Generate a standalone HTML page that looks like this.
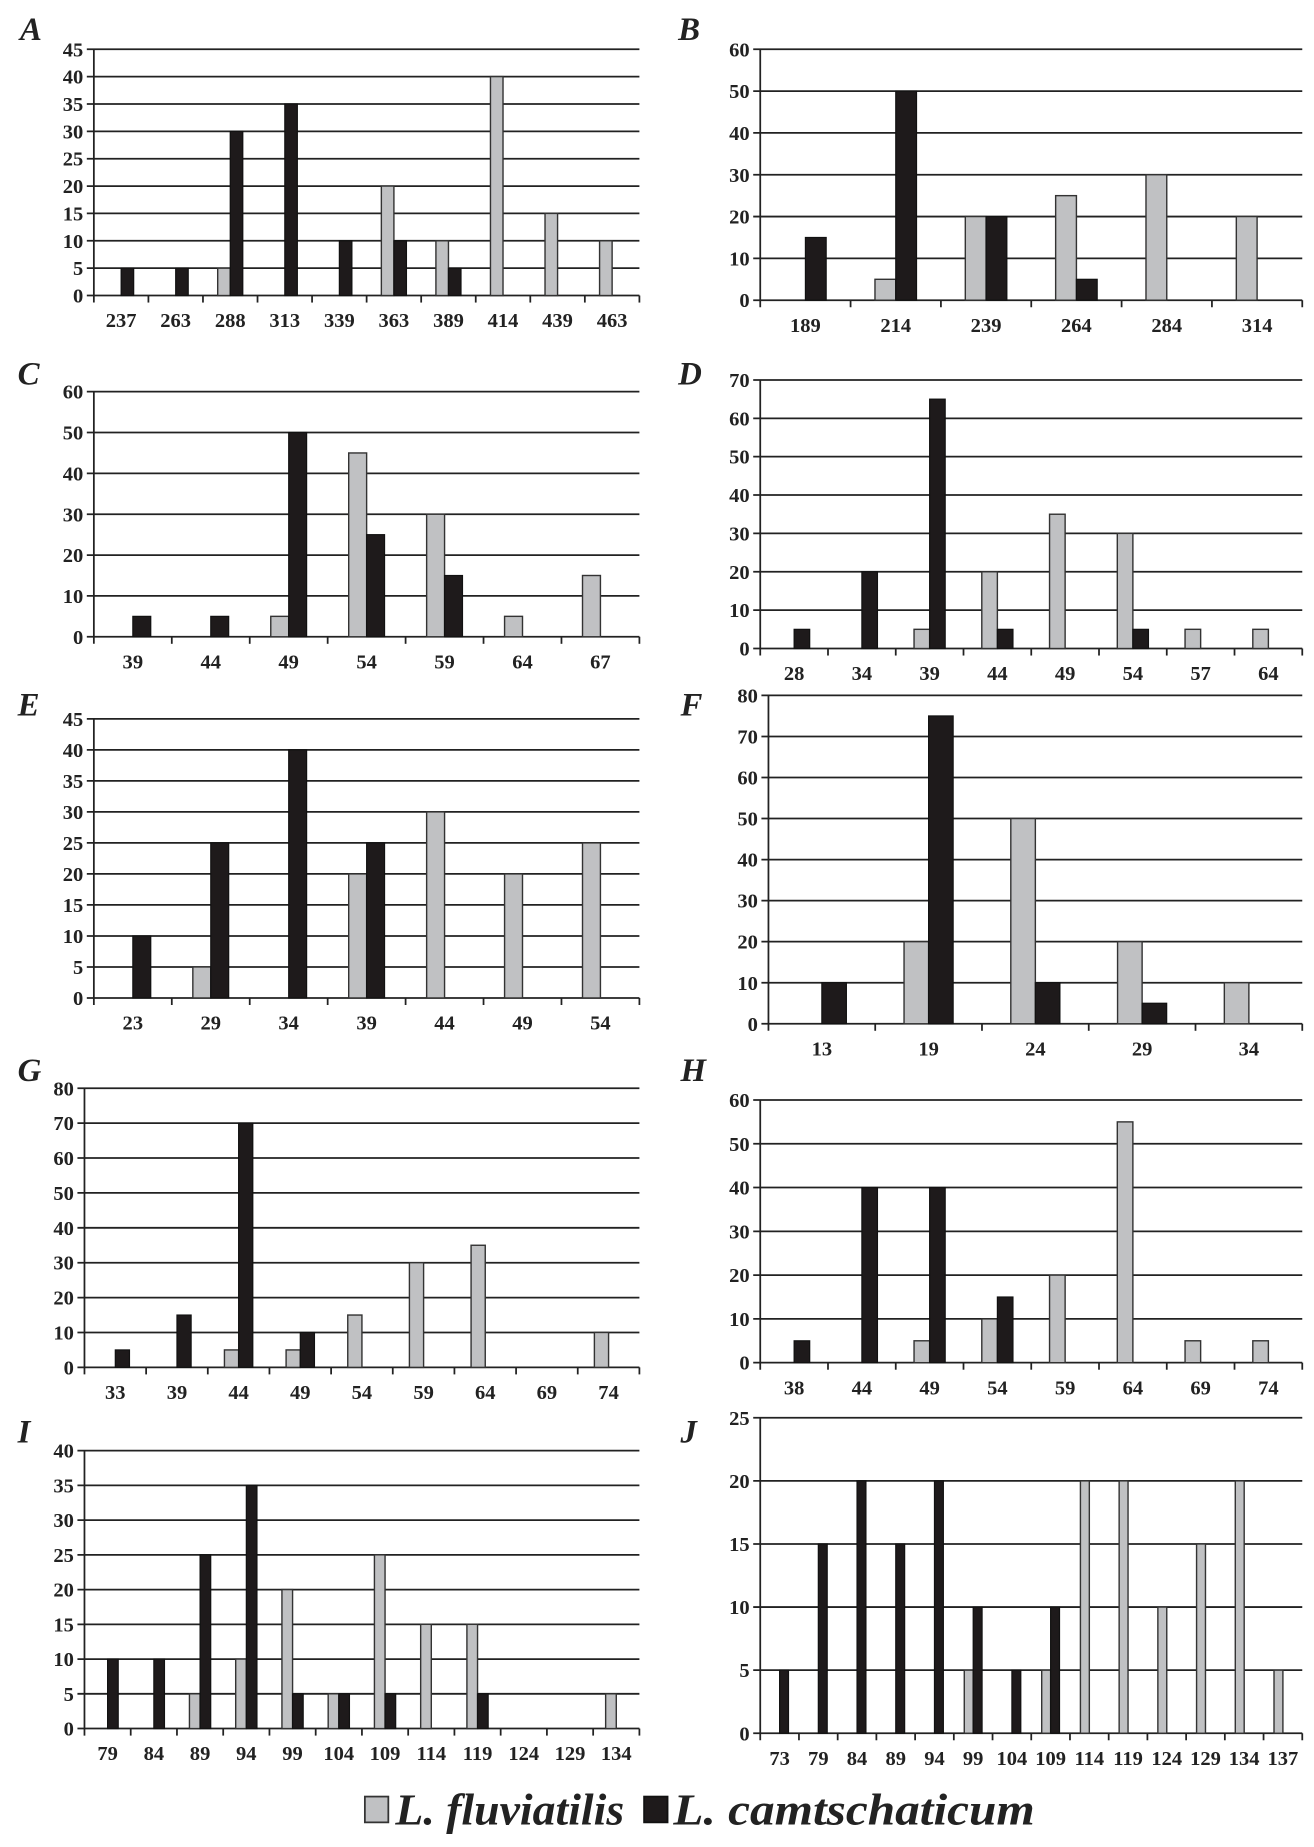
<!DOCTYPE html>
<html><head><meta charset="utf-8"><style>
html,body{margin:0;padding:0;background:#fff}
svg{display:block}
text{font-family:"Liberation Serif",serif;font-weight:bold;fill:#222}
</style></head><body>
<svg id="fig" width="1314" height="1847" viewBox="0 0 1120 1575" preserveAspectRatio="none" xmlns="http://www.w3.org/2000/svg"></svg>
<script>
const labelsA=["A","B","C","D","E","F","G","H","I","J"];
const catsA=[237,263,288,313,339,363,389,414,439,463];
const grayA=[0,0,5,0,0,20,10,40,15,10];
const blackA=[5,5,30,35,10,10,5,0,0,0];
const catsB=[189,214,239,264,284,314];
const grayB=[0,5,20,25,30,20];
const blackB=[15,50,20,5,0,0];
const catsC=[39,44,49,54,59,64,67];
const grayC=[0,0,5,45,30,5,15];
const blackC=[5,5,50,25,15,0,0];
const catsD=[28,34,39,44,49,54,57,64];
const grayD=[0,0,5,20,35,30,5,5];
const blackD=[5,20,65,5,0,5,0,0];
const catsE=[23,29,34,39,44,49,54];
const grayE=[0,5,0,20,30,20,25];
const blackE=[10,25,40,25,0,0,0];
const catsF=[13,19,24,29,34];
const grayF=[0,20,50,20,10];
const blackF=[10,75,10,5,0];
const catsG=[33,39,44,49,54,59,64,69,74];
const grayG=[0,0,5,5,15,30,35,0,10];
const blackG=[5,15,70,10,0,0,0,0,0];
const catsH=[38,44,49,54,59,64,69,74];
const grayH=[0,0,5,10,20,55,5,5];
const blackH=[5,40,40,15,0,0,0,0];
const catsI=[79,84,89,94,99,104,109,114,119,124,129,134];
const grayI=[0,0,5,10,20,5,25,15,15,0,0,5];
const blackI=[10,10,25,35,5,5,5,0,5,0,0,0];
const catsJ=[73,79,84,89,94,99,104,109,114,119,124,129,134,137];
const grayJ=[0,0,0,0,0,5,0,5,20,20,10,15,20,5];
const blackJ=[5,15,20,15,20,10,5,10,0,0,0,0,0,0];
const yMaxes=[45,60,60,70,45,80,80,60,40,25];
const ySteps=[5,10,10,10,5,10,10,10,5,5];

const panels=[
 {x0:80,x1:545,top:42,zero:252,lx:17,ly:34,cats:catsA,g:grayA,b:blackA},
 {x0:648,x1:1110,top:42,zero:256,lx:578,ly:34,cats:catsB,g:grayB,b:blackB},
 {x0:80,x1:545,top:334,zero:543,lx:15,ly:328,cats:catsC,g:grayC,b:blackC},
 {x0:648,x1:1110,top:324,zero:553,lx:578,ly:328,cats:catsD,g:grayD,b:blackD},
 {x0:80,x1:545,top:613,zero:851,lx:15,ly:610,cats:catsE,g:grayE,b:blackE},
 {x0:655,x1:1110,top:593,zero:873,lx:580,ly:610,cats:catsF,g:grayF,b:blackF},
 {x0:72,x1:545,top:928,zero:1166,lx:15,ly:922,cats:catsG,g:grayG,b:blackG},
 {x0:648,x1:1110,top:938,zero:1162,lx:580,ly:922,cats:catsH,g:grayH,b:blackH},
 {x0:72,x1:545,top:1237,zero:1474,lx:15,ly:1230,cats:catsI,g:grayI,b:blackI},
 {x0:648,x1:1110,top:1209,zero:1478,lx:580,ly:1230,cats:catsJ,g:grayJ,b:blackJ}
];
const NS="http://www.w3.org/2000/svg";
const svg=document.getElementById('fig');
function mk(tag,attrs,parent){const e=document.createElementNS(NS,tag);for(const k in attrs)e.setAttribute(k,attrs[k]);(parent||svg).appendChild(e);return e;}
panels.forEach((p,i)=>{
  const L=labelsA[i];
  const g=mk('g',{});
  
  
  const ymax=yMaxes[i],step=ySteps[i];
  const ys=v=>p.zero-(v/ymax)*(p.zero-p.top);
  const n=p.cats.length,cw=(p.x1-p.x0)/n;
  const xs=k=>p.x0+cw*k;
  const lt=mk('text',{x:p.lx,y:p.ly,'font-size':28,'font-style':'italic'},g);
  lt.textContent=L;
  
  
  for(let v=0;v<=ymax;v+=step){
    const y=ys(v);
    const ln=mk('line',{x1:p.x0-6,x2:p.x1,y1:y,y2:y,stroke:'#222','stroke-width':1.5},g);
    
    
    const t=mk('text',{x:p.x0-9,y:y+6,'font-size':17.5,'text-anchor':'end'},g);
    t.textContent=v;
    
    
  }
  const ax=mk('line',{x1:p.x0,x2:p.x0,y1:p.top,y2:p.zero+6,stroke:'#222','stroke-width':1.5},g);
  
  
  const bw=cw*0.23;
  for(let k=0;k<n;k++){
    const tk=mk('line',{x1:xs(k+1),x2:xs(k+1),y1:p.zero,y2:p.zero+6,stroke:'#222','stroke-width':1.5},g);
    
    
    const c=xs(k+0.5);
    if(p.g[k]>0){
      const r=mk('rect',{x:c-bw,y:ys(p.g[k]),width:bw,height:p.zero-ys(p.g[k]),fill:'#c0c1c3',stroke:'#333','stroke-width':1.2},g);
      
      
    }
    if(p.b[k]>0){
      const r=mk('rect',{x:c,y:ys(p.b[k]),width:bw,height:p.zero-ys(p.b[k]),fill:'#1e1a1b',stroke:'#111','stroke-width':1},g);
      
      
    }
    const t=mk('text',{x:c,y:p.zero+27,'font-size':17.5,'text-anchor':'middle'},g);
    t.textContent=p.cats[k];
    
    
  }
});
const lg=mk('g',{});


const b1=mk('rect',{x:311,y:1532,width:20,height:22,fill:'#c0c1c3',stroke:'#333','stroke-width':1.5},lg);


const t1=mk('text',{x:337,y:1556,'font-size':38,'font-style':'italic',textLength:195,lengthAdjust:'spacingAndGlyphs'},lg);
t1.textContent='L. fluviatilis';


const b2=mk('rect',{x:549,y:1532,width:20,height:22,fill:'#1e1a1b',stroke:'#111','stroke-width':1.5},lg);


const t2=mk('text',{x:574,y:1556,'font-size':38,'font-style':'italic',textLength:308,lengthAdjust:'spacingAndGlyphs'},lg);
t2.textContent='L. camtschaticum';


</script>
</body></html>
